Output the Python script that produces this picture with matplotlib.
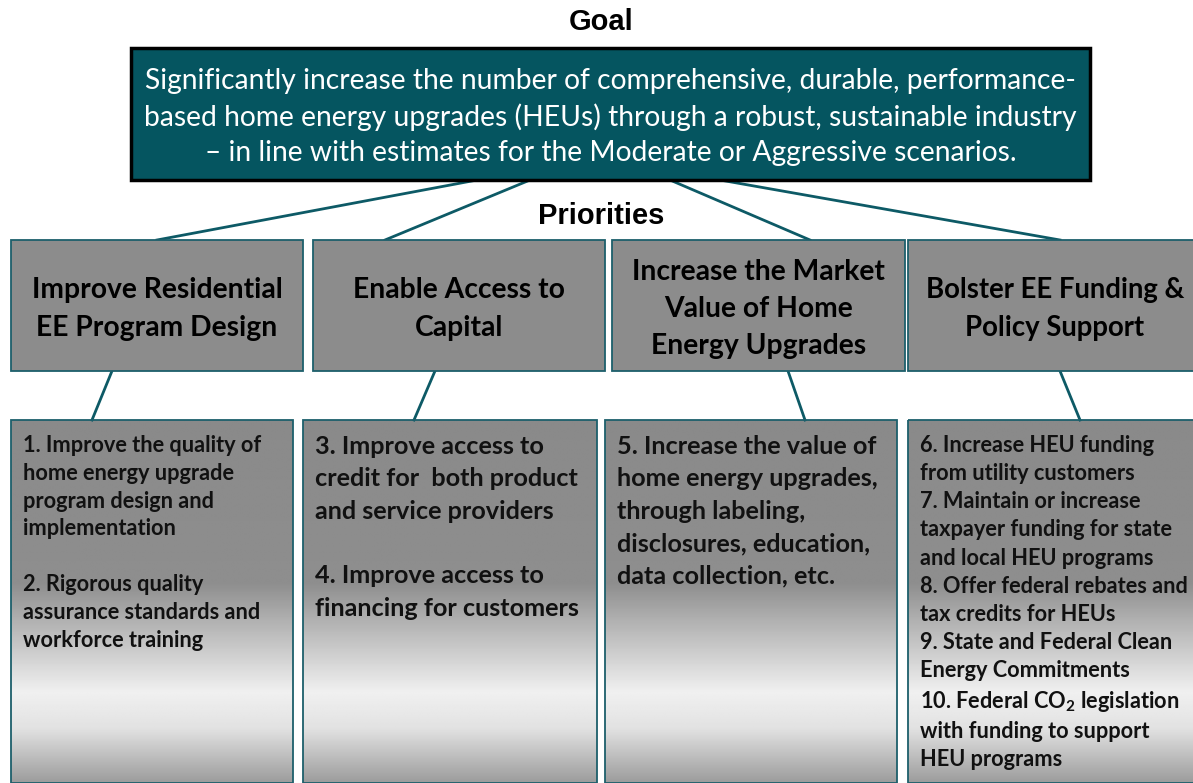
import matplotlib
matplotlib.use("Agg")
import matplotlib.pyplot as plt
import matplotlib.patches as mpatches
import numpy as np

plt.rcParams['font.family'] = ['Lato', 'DejaVu Sans']
plt.rcParams['mathtext.fontset'] = 'custom'
plt.rcParams['mathtext.rm'] = 'Lato:bold'
plt.rcParams['mathtext.bf'] = 'Lato:bold'

# --- content ---
goal_title = "Goal"
goal_text = ("Significantly increase the number of comprehensive, durable, performance-\n"
             "based home energy upgrades (HEUs) through a robust, sustainable industry\n"
             "– in line with estimates for the Moderate or Aggressive scenarios.")
priorities_title = "Priorities"
priorities = ["Improve Residential\nEE Program Design",
              "Enable Access to\nCapital",
              "Increase the Market\nValue of Home\nEnergy Upgrades",
              "Bolster EE Funding &\nPolicy Support"]
actions = [
    "1. Improve the quality of\nhome energy upgrade\nprogram design and\nimplementation\n\n"
    "2. Rigorous quality\nassurance standards and\nworkforce training",
    "3. Improve access to\ncredit for  both product\nand service providers\n\n"
    "4. Improve access to\nfinancing for customers",
    "5. Increase the value of\nhome energy upgrades,\nthrough labeling,\n"
    "disclosures, education,\ndata collection, etc.",
    "6. Increase HEU funding\nfrom utility customers\n7. Maintain or increase\n"
    "taxpayer funding for state\nand local HEU programs\n8. Offer federal rebates and\n"
    "tax credits for HEUs\n9. State and Federal Clean\nEnergy Commitments\n"
    "10. Federal CO$_2$ legislation\nwith funding to support\nHEU programs",
]

# --- layout (pixels) ---
W, H = 1193, 783
teal = "#055560"
line_col = "#0d5a66"

fig = plt.figure(figsize=(W / 100, H / 100), dpi=100)
ax = fig.add_axes([0, 0, 1, 1])
ax.set_xlim(0, W)
ax.set_ylim(H, 0)
ax.axis("off")

# goal
ax.text(601, 22, goal_title, ha="center", va="center", fontsize=21,
        fontweight="bold", family=["Liberation Sans", "DejaVu Sans"])
gx0, gx1, gy0, gy1 = 131, 1090, 48, 180
ax.add_patch(mpatches.Rectangle((gx0, gy0), gx1 - gx0, gy1 - gy0,
                                facecolor=teal, edgecolor="black", lw=2.5, zorder=3))
ax.text((gx0 + gx1) / 2, 117, goal_text, ha="center", va="center",
        color="white", fontsize=20.3, linespacing=1.43, zorder=4)

ax.text(601, 216, priorities_title, ha="center", va="center", fontsize=21,
        fontweight="bold", family=["Liberation Sans", "DejaVu Sans"])

# priority boxes (last one runs past the right edge, as in the original)
pbox_x = [(11, 303), (313, 605), (612, 905), (908, 1202)]
py0, py1 = 240, 371
goal_anchor = [477, 530, 670, 720]
pbox_top = [157, 385, 810, 1060]
p_fs = [20.3, 20.3, 20.3, 19.8]
for (x0, x1), text, ga, pt, fs in zip(pbox_x, priorities, goal_anchor, pbox_top, p_fs):
    ax.plot([ga, pt], [gy1, py0], color=line_col, lw=2, zorder=2)
    ax.add_patch(mpatches.Rectangle((x0, py0), x1 - x0, py1 - py0,
                                    facecolor="#8c8c8c", edgecolor="#1d5f6b",
                                    lw=1.3, zorder=3))
    ax.text((x0 + x1) / 2, 309, text, ha="center", va="center",
            fontsize=fs, fontweight="bold", linespacing=1.53, zorder=4)

# action boxes
abox_x = [(11, 293), (303, 597), (605, 897), (908, 1202)]
ay0, ay1 = 420, 783
conn = [(112, 92), (435, 414), (788, 805), (1060, 1080)]
a_fs = [15.7, 18.2, 18.2, 15.7]
a_ls = [1.40, 1.49, 1.49, 1.42]
a_top = [435, 435, 435, 435]

stops = [0.0, 0.45, 0.55, 0.75, 0.85, 1.0]
vals = [0x8a, 0x8e, 0xb0, 0xf0, 0xe2, 0x9c]
t = np.linspace(0, 1, 300)
grad = np.interp(t, stops, vals) / 255.0
grad_img = np.repeat(grad[:, None], 2, axis=1)

for (x0, x1), text, (c0, c1), fs, ls, ty in zip(abox_x, actions, conn, a_fs, a_ls, a_top):
    ax.plot([c0, c1], [py1, ay0], color=line_col, lw=2, zorder=2)
    ax.imshow(grad_img, cmap="gray", vmin=0, vmax=1, aspect="auto",
              extent=(x0, x1, ay1, ay0), origin="upper", interpolation="bilinear", zorder=1)
    ax.add_patch(mpatches.Rectangle((x0, ay0), x1 - x0, ay1 - ay0,
                                    facecolor="none", edgecolor="#1d5f6b",
                                    lw=1.3, zorder=3))
    ax.text(x0 + 12, ty, text, ha="left", va="top", fontsize=fs,
            fontweight="bold", linespacing=ls, color="#111111", zorder=4)

ax.set_xlim(0, W)
ax.set_ylim(H, 0)
fig.savefig("out.png", dpi=100)
